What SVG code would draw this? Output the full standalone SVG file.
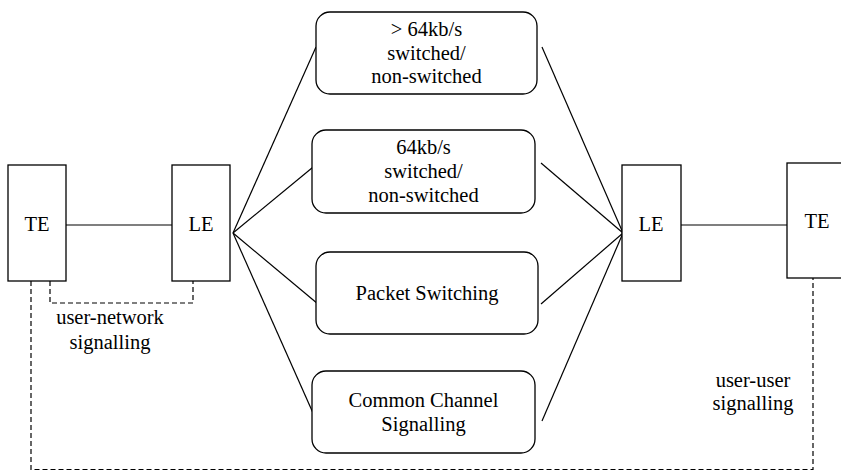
<svg xmlns="http://www.w3.org/2000/svg" width="841" height="471" viewBox="0 0 841 471">
<style>
.box{fill:#fff;stroke:#000;stroke-width:1.3}
.ln{fill:none;stroke:#000;stroke-width:1.2}
.dash{fill:none;stroke:#000;stroke-width:1.2;stroke-dasharray:5 3}
.t{font-family:"Liberation Serif","Times New Roman",Times,serif;font-size:20.5px;fill:#000;text-anchor:middle}
</style>
<rect width="841" height="471" fill="#fff"/>
<g id="connectors">
<line class="ln" x1="66" y1="225" x2="172" y2="225"/>
<line class="ln" x1="681" y1="225" x2="787" y2="225"/>
<line class="ln" x1="233" y1="233" x2="316" y2="47"/>
<line class="ln" x1="233" y1="233" x2="318" y2="163"/>
<line class="ln" x1="233" y1="233" x2="318" y2="304"/>
<line class="ln" x1="233" y1="233" x2="313" y2="413"/>
<line class="ln" x1="623" y1="233" x2="542" y2="47"/>
<line class="ln" x1="623" y1="233" x2="541" y2="163"/>
<line class="ln" x1="623" y1="233" x2="541" y2="304"/>
<line class="ln" x1="623" y1="233" x2="542" y2="421"/>
<path class="dash" d="M50,281 V303 H193 V281"/>
<path class="dash" d="M31,281 V469.5 H813 V278"/>
</g>
<g id="te-left"><rect class="box" x="8" y="165" width="58" height="116"/><text class="t" x="37" y="231">TE</text></g>
<g id="le-left"><rect class="box" x="172" y="165" width="58" height="116"/><text class="t" x="201" y="231">LE</text></g>
<g id="le-right"><rect class="box" x="622" y="165" width="59" height="116"/><text class="t" x="651" y="231">LE</text></g>
<g id="te-right"><rect class="box" x="787" y="163" width="60" height="115"/><text class="t" x="817" y="228">TE</text></g>
<g id="gt64"><rect class="box" x="316" y="12" width="221" height="82" rx="14"/><text class="t" x="426.5" y="36">&gt; 64kb/s</text><text class="t" x="426.5" y="59.5">switched/</text><text class="t" x="426.5" y="83">non-switched</text></g>
<g id="k64"><rect class="box" x="312" y="130" width="223" height="83" rx="14"/><text class="t" x="423.5" y="154">64kb/s</text><text class="t" x="423.5" y="178">switched/</text><text class="t" x="423.5" y="202">non-switched</text></g>
<g id="packet"><rect class="box" x="316" y="252" width="222" height="82" rx="14"/><text class="t" x="427" y="300">Packet Switching</text></g>
<g id="ccs"><rect class="box" x="312" y="371" width="223" height="82" rx="14"/><text class="t" x="423.5" y="407">Common Channel</text><text class="t" x="423.5" y="431">Signalling</text></g>
<g id="labels">
<text class="t" x="110" y="324">user-network</text><text class="t" x="110" y="348.5">signalling</text>
<text class="t" x="753" y="387">user-user</text><text class="t" x="753" y="410">signalling</text>
</g>
</svg>
